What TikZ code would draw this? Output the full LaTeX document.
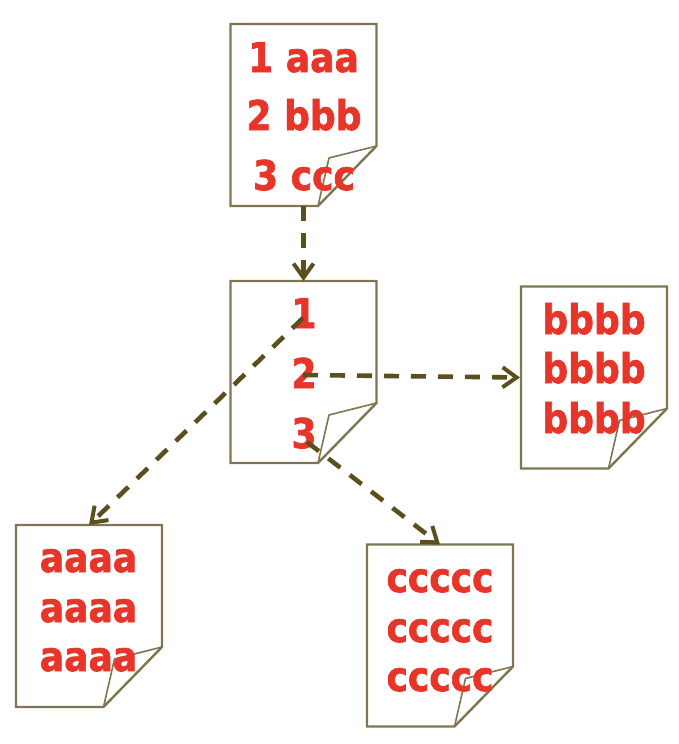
\documentclass[tikz,border=0pt]{standalone}
\usepackage{fontspec}
\setmainfont{DejaVu Sans}[BoldFont={DejaVu Sans Bold},BoldFeatures={FakeStretch=0.88,FakeBold=1.6}]
\usetikzlibrary{arrows.meta}
\definecolor{pageline}{HTML}{7F7550}
\definecolor{flowline}{HTML}{5C4F1E}
\definecolor{labelred}{HTML}{E8352A}
\tikzset{
  pagebox/.style={minimum width=146pt,minimum height=182pt,inner sep=0pt,outer sep=0pt},
  pageedge/.style={draw=pageline,line width=2.4pt,line join=miter},
  foldedge/.style={draw=pageline,line width=1.6pt,line join=round},
  labeltext/.style={anchor=base,text=labelred,font=\fontsize{41pt}{41pt}\selectfont\bfseries,inner sep=0pt},
  flow/.style={draw=flowline,line width=4.6pt,dash pattern=on 15pt off 12pt,
    -{Straight Barb[length=14pt,width=20pt,line width=4pt]}}
}
\newcommand{\docpage}[3]{%
  \node[pagebox] (#1) at (#2,#3) {};
  \draw[pageedge] (#1.north west) -- (#1.north east) -- ([yshift=-122pt]#1.north east)
    -- ([xshift=-58.5pt]#1.south east) -- (#1.south west) -- cycle;
  \draw[foldedge] ([yshift=-122pt]#1.north east) -- ([xshift=-47.5pt,yshift=-134pt]#1.north east)
    -- ([xshift=-58.5pt]#1.south east);
}
\begin{document}
\begin{tikzpicture}[x=1pt,y=-1pt]
\useasboundingbox (0,0) rectangle (678,744);
\docpage{top}{303.5}{115}
\docpage{mid}{303.5}{372}
\docpage{right}{594}{377.5}
\docpage{left}{89}{616}
\docpage{bot}{440}{635.5}
\coordinate (s1) at (303,318);
\coordinate (s2) at (303,375);
\coordinate (s3) at (307,442);
\node[labeltext] (t1) at (303.5,72) {1 aaa};
\node[labeltext] (t2) at (304,130) {2 bbb};
\node[labeltext] (t3) at (304,190) {3 ccc};
\node[labeltext] (n1) at (304,328) {1};
\node[labeltext] (n2) at (304,388) {2};
\node[labeltext] (n3) at (304,448) {3};
\node[labeltext] (r1) at (594,334) {bbbb};
\node[labeltext] (r2) at (594,383) {bbbb};
\node[labeltext] (r3) at (594,433) {bbbb};
\node[labeltext] (l1) at (88.5,572) {aaaa};
\node[labeltext] (l2) at (88.5,622) {aaaa};
\node[labeltext] (l3) at (88.5,671) {aaaa};
\node[labeltext] (b1) at (440,592) {ccccc};
\node[labeltext] (b2) at (440,642) {ccccc};
\node[labeltext] (b3) at (440,691) {ccccc};
\draw[flow] (top.south) -- (mid.north);
\draw[flow] (s1) -- (left.north);
\draw[flow] (s2) -- ([xshift=-1pt]right.west);
\draw[flow] (s3) -- (bot.north);
\end{tikzpicture}
\end{document}
